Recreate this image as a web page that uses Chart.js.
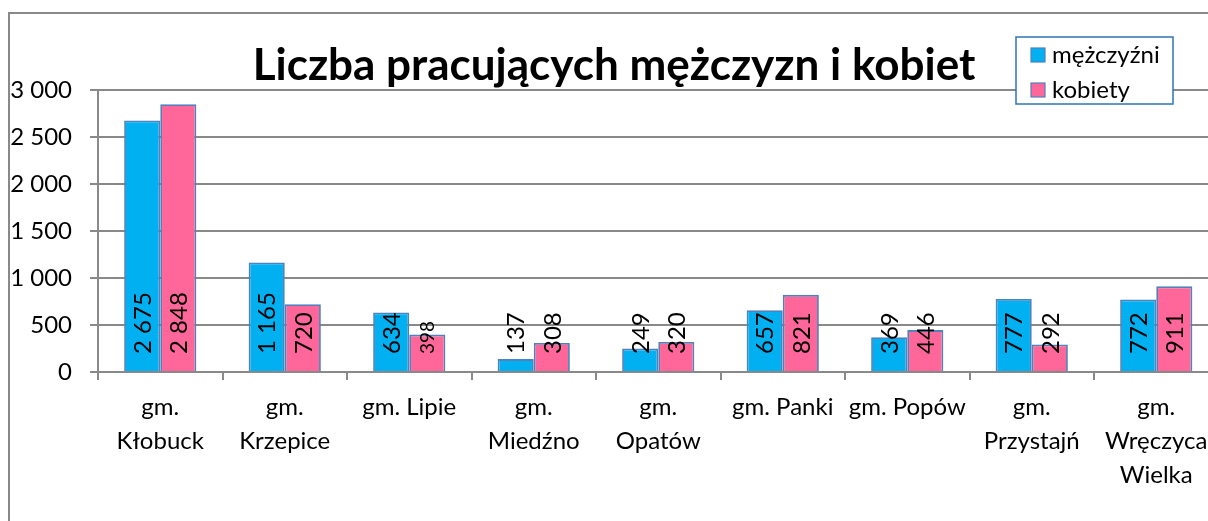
<!DOCTYPE html>
<html><head><meta charset="utf-8">
<script src="https://cdn.jsdelivr.net/npm/chart.js@4.4.1/dist/chart.umd.min.js"></script>
<style>
html,body{margin:0;padding:0;background:#fff;overflow:hidden;width:1208px;height:521px;}
#wrap{position:absolute;left:0;top:0;width:1240px;height:560px;}
canvas{display:block;}
</style></head>
<body>
<div id="wrap"><canvas id="c" width="1240" height="560"></canvas></div>
<script>
const categories = [["gm.","Kłobuck"],["gm.","Krzepice"],"gm. Lipie",["gm.","Miedźno"],["gm.","Opatów"],"gm. Panki","gm. Popów",["gm.","Przystajń"],["gm.","Wręczyca","Wielka"]];
const men = [2675, 1165, 634, 137, 249, 657, 369, 777, 772];
const women = [2848, 720, 398, 308, 320, 821, 446, 292, 911];
const seriesNames = ["mężczyźni", "kobiety"];
const yTicks = [0, 500, 1000, 1500, 2000, 2500, 3000];
const titleText = "Liczba pracujących mężczyzn i kobiet";

const FONT = "Lato, Carlito, Calibri, sans-serif";
const GRAY = "#898989";
const fmt = v => String(v).replace(/\B(?=(\d{3})+(?!\d))/g, " ");

const decor = {
  id: "decor",
  beforeDraw(chart) {
    const ctx = chart.ctx;
    ctx.save();
    ctx.fillStyle = "#fff";
    ctx.fillRect(0, 0, chart.width, chart.height);
    ctx.strokeStyle = GRAY;
    ctx.lineWidth = 2;
    ctx.beginPath();
    ctx.moveTo(9, chart.height + 5);
    ctx.lineTo(9, 13);
    ctx.lineTo(chart.width + 5, 13);
    ctx.stroke();
    ctx.restore();
  },
  afterDatasetsDraw(chart) {
    const ctx = chart.ctx;
    ctx.save();
    chart.data.datasets.forEach((ds, di) => {
      const meta = chart.getDatasetMeta(di);
      meta.data.forEach((el, i) => {
        const small = (di === 1 && i === 2);
        ctx.save();
        ctx.translate(el.x + 1, el.base - 17);
        ctx.rotate(-Math.PI / 2);
        ctx.font = (small ? 19 : 24) + "px " + FONT;
        ctx.fillStyle = "#000";
        ctx.textAlign = "left";
        ctx.textBaseline = "middle";
        ctx.fillText(fmt(ds.data[i]), 0, 0);
        ctx.restore();
      });
    });
    ctx.restore();
  },
  afterDraw(chart) {
    const ctx = chart.ctx;
    ctx.save();
    ctx.font = "bold 44px " + FONT;
    ctx.fillStyle = "#000";
    ctx.textAlign = "center";
    ctx.textBaseline = "alphabetic";
    ctx.fillText(titleText, 614, 80);
    ctx.fillStyle = "#fff";
    ctx.fillRect(1016, 37, 157, 67);
    ctx.strokeStyle = "#2E75B6";
    ctx.lineWidth = 1.5;
    ctx.strokeRect(1016, 37, 157, 67);
    chart.data.datasets.forEach((ds, di) => {
      const y = 55 + di * 35;
      ctx.fillStyle = ds.backgroundColor;
      ctx.fillRect(1031, y - 7, 14, 14);
      ctx.strokeStyle = ds.borderColor;
      ctx.lineWidth = 1.2;
      ctx.strokeRect(1031, y - 7, 14, 14);
      ctx.fillStyle = "#000";
      ctx.font = "24px " + FONT;
      ctx.textAlign = "left";
      ctx.textBaseline = "middle";
      ctx.fillText(ds.label, 1052, y);
    });
    ctx.restore();
  }
};

new Chart(document.getElementById("c"), {
  type: "bar",
  data: {
    labels: categories,
    datasets: [
      { label: seriesNames[0], data: men, backgroundColor: "#00B0F0", borderColor: "#4F81BD", borderWidth: 1.8 },
      { label: seriesNames[1], data: women, backgroundColor: "#FF6699", borderColor: "#4F81BD", borderWidth: 1.8 }
    ]
  },
  options: {
    responsive: false,
    animation: false,
    devicePixelRatio: 1,
    layout: { padding: { left: 0, top: 90, right: 21.5, bottom: 0 } },
    datasets: { bar: { categoryPercentage: 0.58, barPercentage: 1.0 } },
    plugins: { legend: { display: false }, title: { display: false }, tooltip: { enabled: false } },
    scales: {
      x: {
        grid: { display: true, drawOnChartArea: false, drawTicks: true, tickLength: 8, color: GRAY, lineWidth: 2, offset: true },
        border: { display: true, color: GRAY, width: 2 },
        ticks: { color: "#000", font: { family: FONT, size: 24, lineHeight: 1.42 }, padding: 10, maxRotation: 0, autoSkip: false },
        afterFit(s) { s.height = 188; }
      },
      y: {
        min: 0, max: 3000,
        afterBuildTicks(s) { s.ticks = yTicks.map(v => ({ value: v })); },
        grid: { color: GRAY, lineWidth: 2, tickLength: 8, drawTicks: true },
        border: { display: true, color: GRAY, width: 2 },
        ticks: { color: "#000", font: { family: FONT, size: 24 }, padding: 18, callback: v => fmt(v) },
        afterFit(s) { s.width = 98; }
      }
    }
  },
  plugins: [decor]
});
</script>
</body></html>
